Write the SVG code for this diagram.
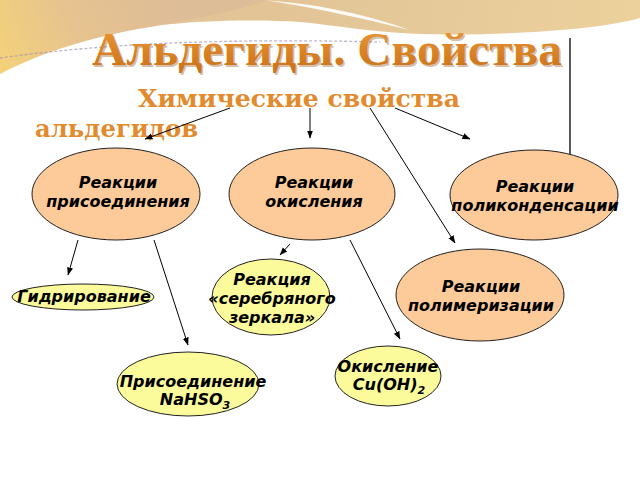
<svg xmlns="http://www.w3.org/2000/svg" width="640" height="480" viewBox="0 0 640 480">
  <defs>
    <linearGradient id="tanL" gradientUnits="userSpaceOnUse" x1="0" y1="75" x2="180" y2="0">
      <stop offset="0" stop-color="#f4d27a"/>
      <stop offset="0.45" stop-color="#e6c38f"/>
      <stop offset="1" stop-color="#ddbc98"/>
    </linearGradient>
    <linearGradient id="tanR" gradientUnits="userSpaceOnUse" x1="280" y1="0" x2="640" y2="30">
      <stop offset="0" stop-color="#e2c497"/>
      <stop offset="1" stop-color="#ecd19c"/>
    </linearGradient>
    <linearGradient id="titleG" x1="0" y1="0" x2="0" y2="1">
      <stop offset="0" stop-color="#ee9a36"/>
      <stop offset="1" stop-color="#c86f18"/>
    </linearGradient>
    <marker id="arr" markerUnits="userSpaceOnUse" markerWidth="8" markerHeight="8" viewBox="0 0 8 8" refX="7.5" refY="4" orient="auto">
      <path d="M0,1 L8,4 L0,7 Z" fill="#000"/>
    </marker>
    <style>
      .big { fill: #fdca9a; stroke: #222; stroke-width: 1; }
      .small { fill: #fbfb9c; stroke: #222; stroke-width: 1; }
      .lbl { font-family: "DejaVu Sans", "Liberation Sans", sans-serif; font-weight: bold; font-style: italic; font-size: 16px; fill: #000; text-anchor: middle; }
      .sub { font-family: "DejaVu Serif", "Liberation Serif", serif; font-weight: bold; font-size: 24px; fill: #e28a2c; }
      .con { stroke: #000; stroke-width: 1; fill: none; marker-end: url(#arr); }
    </style>
  </defs>

  <rect x="0" y="0" width="640" height="480" fill="#ffffff"/>

  <!-- decoration -->
  <path d="M0,0 H300 C260,12 220,19 170,24 C110,32 50,48 0,74 Z" fill="url(#tanL)"/>
  <path d="M270,0 H640 V18 C600,30 500,36 420,34 C380,33 340,26 300,22 C250,19 200,21 160,25 C200,18 240,10 270,0 Z" fill="url(#tanR)"/>
  <path d="M262,0 C310,3 360,12 410,30 C360,18 320,9 288,4 C280,2 270,1 262,0 Z" fill="#ffffff" opacity="0.9"/>
  <path d="M0,58 C100,44 220,38 380,42" fill="none" stroke="#a294b0" stroke-width="1.3" stroke-dasharray="3,2" opacity="0.7"/>

  <!-- title -->
  <text x="93.500" y="66.500" font-family="'Liberation Serif', 'Times New Roman', serif" font-weight="bold" font-size="47" fill="#8a4d12" opacity="0.35" textLength="470" lengthAdjust="spacingAndGlyphs">Альдегиды. Свойства</text>
  <text x="92" y="65" font-family="'Liberation Serif', 'Times New Roman', serif" font-weight="bold" font-size="47" fill="url(#titleG)" textLength="470" lengthAdjust="spacingAndGlyphs">Альдегиды. Свойства</text>

  <text class="sub" x="138" y="107" textLength="322" lengthAdjust="spacingAndGlyphs">Химические  свойства</text>
  <text class="sub" x="35" y="137" textLength="163" lengthAdjust="spacingAndGlyphs">альдегидов</text>

  <line x1="570" y1="38" x2="570" y2="156" stroke="#000" stroke-width="1.3"/>

  <!-- connectors -->
  <g id="connectors">
    <line class="con" x1="230" y1="108" x2="145" y2="139"/>
    <line class="con" x1="310" y1="108" x2="310" y2="138"/>
    <line class="con" x1="370" y1="108" x2="455" y2="243"/>
    <line class="con" x1="395" y1="108" x2="470" y2="139"/>
    <line class="con" x1="78" y1="240" x2="68" y2="275"/>
    <line class="con" x1="154" y1="240" x2="188" y2="345"/>
    <line class="con" x1="290" y1="244" x2="280" y2="255"/>
    <line class="con" x1="350" y1="240" x2="400" y2="339"/>
  </g>

  <!-- nodes -->
  <g id="node-prisoed">
    <ellipse class="big" cx="116" cy="194" rx="84" ry="46"/>
    <text class="lbl" x="118" y="188">Реакции</text>
    <text class="lbl" x="118" y="207">присоединения</text>
  </g>
  <g id="node-okisl">
    <ellipse class="big" cx="312" cy="194" rx="83" ry="46"/>
    <text class="lbl" x="314" y="188">Реакции</text>
    <text class="lbl" x="314" y="207">окисления</text>
  </g>
  <g id="node-polikond">
    <ellipse class="big" cx="534" cy="195" rx="84" ry="45"/>
    <text class="lbl" x="535" y="192">Реакции</text>
    <text class="lbl" x="535" y="211">поликонденсации</text>
  </g>
  <g id="node-polimer">
    <ellipse class="big" cx="480" cy="295" rx="84" ry="46"/>
    <text class="lbl" x="481" y="292">Реакции</text>
    <text class="lbl" x="481" y="311">полимеризации</text>
  </g>
  <g id="node-gidr">
    <ellipse class="small" cx="83" cy="297" rx="71" ry="13"/>
    <text class="lbl" x="84" y="302">Гидрирование</text>
  </g>
  <g id="node-serebr">
    <ellipse class="small" cx="271" cy="297" rx="59" ry="38"/>
    <text class="lbl" x="272" y="285">Реакция</text>
    <text class="lbl" x="272" y="304">«серебряного</text>
    <text class="lbl" x="272" y="323">зеркала»</text>
  </g>
  <g id="node-nahso3">
    <ellipse class="small" cx="188" cy="384" rx="71" ry="32"/>
    <text class="lbl" x="193" y="387">Присоединение</text>
    <text class="lbl" x="195" y="405">NaHSO<tspan font-size="11" dy="4">3</tspan></text>
  </g>
  <g id="node-cuoh">
    <ellipse class="small" cx="388" cy="376" rx="53" ry="30"/>
    <text class="lbl" x="388" y="372">Окисление</text>
    <text class="lbl" x="389" y="390">Cu(OH)<tspan font-size="11" dy="4">2</tspan></text>
  </g>
</svg>
